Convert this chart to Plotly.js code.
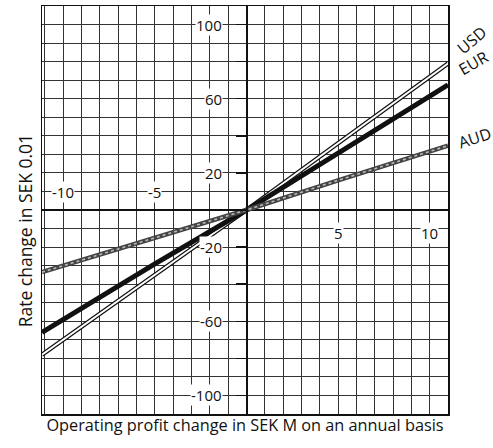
<!DOCTYPE html>
<html>
<head>
<meta charset="utf-8">
<script src="https://cdn.plot.ly/plotly-3.0.1.min.js"></script>
<style>html,body{margin:0;padding:0;background:#fff;}#chart{width:493px;height:448px;}</style>
</head>
<body>
<div id="chart"></div>
<script>
// Data
var xValues   = [-11.16, -5, 0, 5, 11];
var usdValues = [-78, -35, 0, 36, 79];
var eurValues = [-66, -29, 0, 31, 67.5];
var audValues = [-33.5, -15, 0, 16, 34.7];
var seriesNames = ['USD', 'EUR', 'AUD'];

var xRange = [-11.16, 11];
var yRange = [-110, 110];

var xTickVals   = [-10, -5, 5, 10];
var xTickLabels = ['-10', '-5', '5', '10'];
var xTickLevels = [10, 10, -10, -10];   // y level at which each x label sits
var yTickVals   = [100, 60, 20, -20, -60, -100];
var yTickLabels = ['100', '60', '20', '-20', '-60', '-100'];

var FONT = '"Open Sans", Lato, sans-serif';
var INK = '#111';

var traces = [];
// USD: double line (white core, black outline)
traces.push({x: xValues, y: usdValues, mode: 'lines', line: {color: INK, width: 4.5}, hoverinfo: 'skip', showlegend: false});
traces.push({x: xValues, y: usdValues, mode: 'lines', line: {color: '#fff', width: 2}, hoverinfo: 'skip', showlegend: false});
// EUR: thick black
traces.push({x: xValues, y: eurValues, mode: 'lines', line: {color: INK, width: 5}, hoverinfo: 'skip', showlegend: false});
// AUD: mottled grey
traces.push({x: xValues, y: audValues, mode: 'lines', line: {color: '#444', width: 4.5}, hoverinfo: 'skip', showlegend: false});
traces.push({x: xValues, y: audValues, mode: 'lines', line: {color: '#bbb', width: 1.6, dash: 'dot'}, hoverinfo: 'skip', showlegend: false});

var annotations = [];
for (var i = 0; i < xTickVals.length; i++) {
  annotations.push({x: xTickVals[i], y: xTickLevels[i], xref: 'x', yref: 'y', text: xTickLabels[i],
    showarrow: false, bgcolor: '#fff', borderpad: 0, yshift: xTickLevels[i] < 0 ? -4 : -1,
    font: {family: FONT, size: 15, color: INK}});
}
for (var j = 0; j < yTickVals.length; j++) {
  annotations.push({x: 0, y: yTickVals[j], xref: 'x', yref: 'y', text: yTickLabels[j],
    showarrow: false, xanchor: 'right', xshift: -23, bgcolor: '#fff', borderpad: 0,
    font: {family: FONT, size: 15, color: INK}});
}
// Series labels at line ends
var ends = [usdValues[usdValues.length - 1], eurValues[eurValues.length - 1], audValues[audValues.length - 1]];
var lblShift = [[24, 23, -40], [25, 22, -30], [26, 8, -18]];
for (var k = 0; k < seriesNames.length; k++) {
  annotations.push({x: xValues[xValues.length - 1], y: ends[k], xref: 'x', yref: 'y', text: seriesNames[k],
    showarrow: false, xshift: lblShift[k][0], yshift: lblShift[k][1], textangle: lblShift[k][2],
    font: {family: FONT, size: 16, color: INK}});
}
// Y title
annotations.push({x: -0.042, y: 0.45, xref: 'paper', yref: 'paper', xanchor: 'center', yanchor: 'middle',
  text: 'Rate change in SEK 0.01',
  textangle: -90, showarrow: false, font: {family: FONT, size: 17.5, color: INK}});

var gridCol = '#333';
var layout = {
  width: 493, height: 448,
  margin: {l: 42, r: 45, t: 6, b: 34},
  paper_bgcolor: '#fff', plot_bgcolor: '#fff',
  showlegend: false,
  font: {family: FONT, color: INK},
  xaxis: {
    range: xRange, tickmode: 'linear', tick0: 0, dtick: 1,
    showgrid: true, gridcolor: gridCol, gridwidth: 1,
    showticklabels: false, ticks: '',
    zeroline: true, zerolinecolor: INK, zerolinewidth: 1.5,
    showline: true, mirror: true, linecolor: INK, linewidth: 1.5,
    title: {text: 'Operating profit change in SEK M on an annual basis', standoff: 5,
            font: {family: FONT, size: 16.3, color: INK}},
    fixedrange: true
  },
  yaxis: {
    range: yRange, tickmode: 'linear', tick0: 0, dtick: 20,
    anchor: 'free', position: (0 - xRange[0]) / (xRange[1] - xRange[0]),
    ticks: 'outside', ticklen: 10, tickwidth: 1.5, tickcolor: INK,
    showticklabels: false,
    showgrid: true, gridcolor: gridCol, gridwidth: 1,
    minor: {dtick: 10, showgrid: true, gridcolor: gridCol, gridwidth: 1, ticks: ''},
    zeroline: true, zerolinecolor: INK, zerolinewidth: 2,
    showline: true, linecolor: INK, linewidth: 1.5,
    fixedrange: true
  },
  yaxis2: {
    range: yRange, overlaying: 'y', anchor: 'x', side: 'left',
    showgrid: false, zeroline: false, showticklabels: false, ticks: '',
    showline: true, mirror: true, linecolor: INK, linewidth: 1.5,
    fixedrange: true
  },
  annotations: annotations
};

// invisible trace to activate the yaxis2 frame
traces.push({x: [xRange[0]], y: [0], yaxis: 'y2', mode: 'markers', marker: {opacity: 0}, hoverinfo: 'skip', showlegend: false});

Plotly.newPlot('chart', traces, layout, {staticPlot: true, displayModeBar: false});
</script>
</body>
</html>
